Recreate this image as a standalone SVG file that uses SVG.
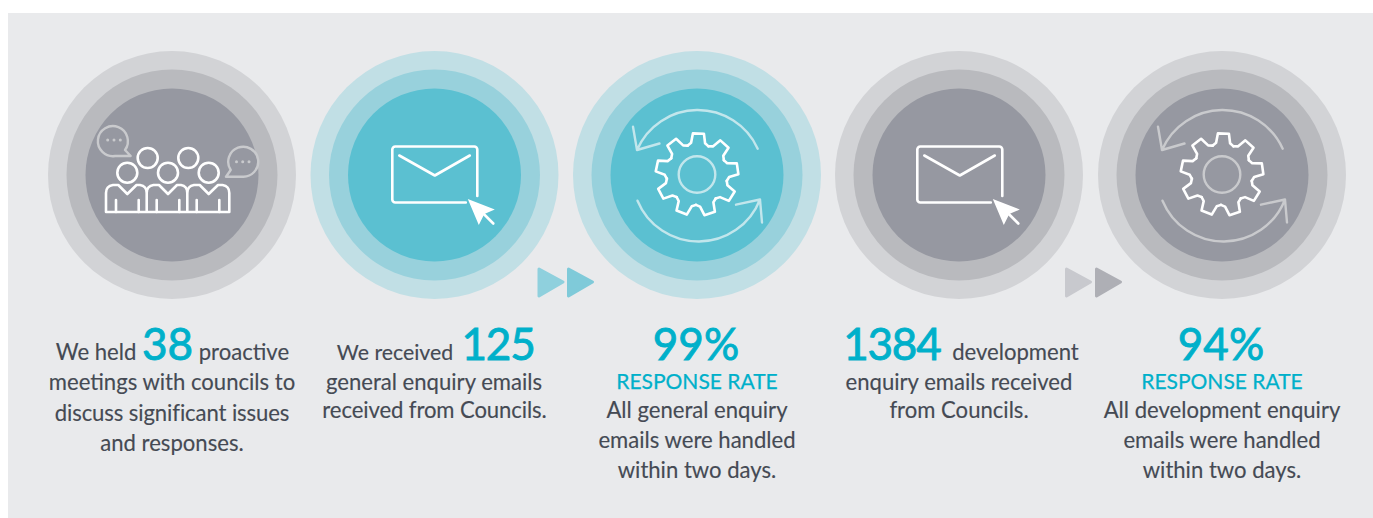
<svg xmlns="http://www.w3.org/2000/svg" xmlns:xlink="http://www.w3.org/1999/xlink" width="1373" height="518" viewBox="0 0 1373 518">
<style>
text{font-family:"Lato","Noto Sans","Liberation Sans",sans-serif;fill:#454a54;font-size:22.1px;text-anchor:middle;stroke:#454a54;stroke-width:.15}
.big{fill:#00b0ca;stroke:#00b0ca;stroke-width:.9;font-size:44px}
.tight{letter-spacing:-1.2px}
.sub{fill:#00b0ca;stroke:#00b0ca;stroke-width:.25;font-size:21px}
.g1{fill:#d2d3d6}.g2{fill:#b9babe}.g3{fill:#9698a1}
.t1{fill:#c1dfe5}.t2{fill:#98d1dc}.t3{fill:#5bc0d1}
.w{fill:none;stroke:#fff;stroke-width:2.6;stroke-linecap:round;stroke-linejoin:round}
.s{fill:none;stroke:currentColor;stroke-width:2.4;stroke-linecap:round;stroke-linejoin:round}
</style>
<defs>
<g id="mail">
<path class="w" d="M31 27.500H-39.500a3 3 0 0 1-3-3V-25.500a3 3 0 0 1 3-3H39.500a3 3 0 0 1 3 3V21"/>
<path class="w" d="M-35.500-19.500L0 .5 35-19.500"/>
<polygon points="33,24 60,34.500 49.500,39 44,50" fill="#fff"/>
<path class="w" d="M47 37L58.500 48.500"/>
</g>
<path id="tooth" class="w" d="M-10.500-28.500L-7-31.500-5.500-41H5.500L7-31.500 10.500-28.500"/>
<g id="gear">
<use xlink:href="#tooth" transform="rotate(2)"/><use xlink:href="#tooth" transform="rotate(42)"/><use xlink:href="#tooth" transform="rotate(82)"/><use xlink:href="#tooth" transform="rotate(122)"/><use xlink:href="#tooth" transform="rotate(162)"/><use xlink:href="#tooth" transform="rotate(202)"/><use xlink:href="#tooth" transform="rotate(242)"/><use xlink:href="#tooth" transform="rotate(282)"/><use xlink:href="#tooth" transform="rotate(322)"/>
<circle class="s" r="18.300"/>
<path class="s" d="M60.700-25.800A66 66 0 0 0-60-24.500M-64-47.800L-60-24.500-37.500-31"/>
<path class="s" d="M-59.500 26.200A66 66 0 0 0 63 25M39 30.200L63 25 65 48"/>
</g>
</defs>
<rect x="8" y="13" width="1365" height="505" fill="#e9eaec"/>
<g id="node-meetings">
<circle class="g1" cx="172" cy="175" r="124"/><circle class="g2" cx="172" cy="175" r="105.500"/><circle class="g3" cx="172" cy="175" r="86.500"/>
<g class="w">
<circle cx="147.700" cy="158" r="10"/><circle cx="188.300" cy="158" r="10"/><circle cx="127.300" cy="172.700" r="10"/><circle cx="168" cy="172.700" r="10"/><circle cx="208.700" cy="172.700" r="10"/>
<path d="M106 212V193Q106 186 113 185L118.300 185 127.300 194 136.500 185H140Q146.700 186 146.700 193V212M146.700 193Q146.700 186 153.500 185L159 185 168 194 177 185H181Q187.300 186 187.300 193V212M187.300 193Q187.300 186 194 185L199.700 185 208.700 194 218 185H222.500Q229.300 186 229.300 193V212H106"/>
<path d="M116 200V212M138.700 200V212M156.700 200V212M179.300 200V212M196.700 200V212M219.300 200V212"/>
</g>
<g style="color:#c9cacd">
<path class="s" d="M125 150L130.700 156H115A15 15 0 1 1 125 150"/>
<path class="s" d="M230.700 170L226 176.700H242A15 15 0 1 0 230.700 170"/>
<g fill="currentColor"><circle cx="107.700" cy="140" r="1.500"/><circle cx="114" cy="140" r="1.500"/><circle cx="120.300" cy="140" r="1.500"/><circle cx="236.500" cy="161.700" r="1.500"/><circle cx="242.700" cy="161.700" r="1.500"/><circle cx="249" cy="161.700" r="1.500"/></g>
</g>
<text x="172.500" y="360">We held <tspan class="big">38</tspan> proactive</text>
<text x="172" y="390">meetings with councils to</text>
<text x="172" y="421" style="letter-spacing:-.1px">discuss significant issues</text>
<text x="172" y="451">and responses.</text>
</g>
<g id="node-general">
<circle class="t1" cx="434.500" cy="175" r="124"/><circle class="t2" cx="434.500" cy="175" r="105.500"/><circle class="t3" cx="434.500" cy="175" r="86.500"/>
<use xlink:href="#mail" transform="translate(434.800,175)"/>
<text x="395" y="360" style="font-size:21.300px">We received</text>
<text class="big tight" x="498" y="360">125</text>
<text x="434" y="390">general enquiry emails</text>
<text x="434.500" y="418" style="letter-spacing:-.1px">received from Councils.</text>
</g>
<g id="node-general-rate">
<circle class="t1" cx="697" cy="175" r="124"/><circle class="t2" cx="697" cy="175" r="105.500"/><circle class="t3" cx="697" cy="175" r="86.500"/>
<use xlink:href="#gear" transform="translate(697,174.500)" style="color:#c2e6ec"/>
<text class="big" x="696" y="360">99%</text>
<text class="sub" x="697" y="389">RESPONSE RATE</text>
<text x="697" y="418">All general enquiry</text>
<text x="697" y="448">emails were handled</text>
<text x="697" y="478">within two days.</text>
</g>
<g id="node-development">
<circle class="g1" cx="959" cy="175" r="124"/><circle class="g2" cx="959" cy="175" r="105.500"/><circle class="g3" cx="959" cy="175" r="86.500"/>
<use xlink:href="#mail" transform="translate(959.800,175)"/>
<text x="961" y="360"><tspan class="big tight">1384</tspan><tspan dx="6"> development</tspan></text>
<text x="959" y="390">enquiry emails received</text>
<text x="959" y="418">from Councils.</text>
</g>
<g id="node-development-rate">
<circle class="g1" cx="1222" cy="175" r="124"/><circle class="g2" cx="1222" cy="175" r="105.500"/><circle class="g3" cx="1222" cy="175" r="86.500"/>
<use xlink:href="#gear" transform="translate(1222,174.500)" style="color:#c9cacd"/>
<text class="big" x="1221" y="360">94%</text>
<text class="sub" x="1222" y="389">RESPONSE RATE</text>
<text x="1222" y="418">All development enquiry</text>
<text x="1222" y="448">emails were handled</text>
<text x="1222" y="478">within two days.</text>
</g>
<g id="connectors" stroke-width="3" stroke-linejoin="round">
<polygon points="539,269 563,282 539,296" fill="#8fd0dd" stroke="#8fd0dd"/>
<polygon points="568.500,269 592.500,282 568.500,296" fill="#7fcad9" stroke="#7fcad9"/>
<polygon points="1066.500,269 1090.500,282 1066.500,296" fill="#c8c9ce" stroke="#c8c9ce"/>
<polygon points="1096.500,269 1120.500,282 1096.500,296" fill="#aeafb5" stroke="#aeafb5"/>
</g>
</svg>
